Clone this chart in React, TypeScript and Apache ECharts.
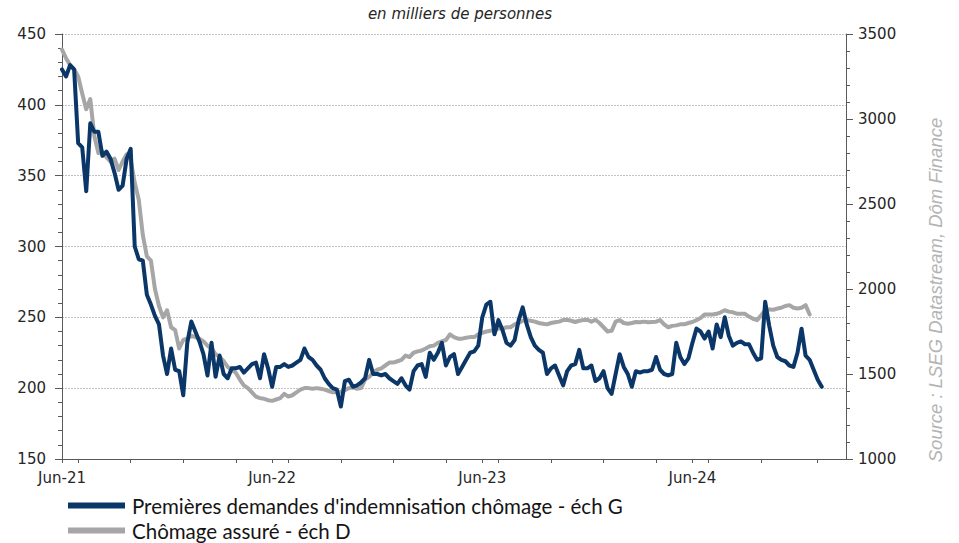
import { useEffect, useRef } from "react";
import * as echarts from "echarts";

// ---- data ----
const startDate = "2021-06-05"; // first weekly observation (week ending Saturday)
const weekCount = 195; // weeks shown on the axis
const tickLabels = ["Jun-21", "Jun-22", "Jun-23", "Jun-24"];
const quarterMonths = [1, 4, 7, 10];
const tickYears = [2021, 2022, 2023, 2024, 2025];

const blueName = "Premières demandes d'indemnisation chômage - éch G";
const grayName = "Chômage assuré - éch D";

// Initial claims, thousands (left scale)
const initialClaims = [
  425, 420, 428, 425, 373, 370, 339, 387, 381, 381,
  364, 367, 362, 352, 340, 343, 362, 369, 300, 291,
  290, 266, 259, 251, 245, 223, 210, 228, 213, 212,
  195, 232, 247, 240, 233, 224, 209, 232, 208, 223,
  210, 207, 214, 214, 215, 211, 214, 217, 218, 207,
  224, 214, 201, 215, 215, 217, 215, 216, 218, 220,
  228, 222, 220, 216, 213, 207, 203, 200, 199, 187,
  205, 206, 201, 202, 204, 207, 220, 210, 210, 209,
  210, 207, 205, 203, 207, 202, 199, 212, 216, 217,
  208, 225, 220, 225, 232, 216, 222, 224, 210, 215,
  220, 225, 226, 230, 250, 259, 261, 238, 248, 241,
  232, 230, 234, 248, 257, 245, 236, 230, 227, 225,
  210, 214, 216, 209, 202, 212, 216, 217, 227, 214,
  214, 216, 205, 207, 212, 200, 196, 210, 224, 215,
  210, 201, 212, 211, 212, 212, 213, 222, 213, 210,
  209, 210, 232, 222, 217, 221, 232, 242, 240, 235,
  240, 228, 245, 236, 250, 237, 230, 232, 233, 231,
  231, 225, 220, 221, 261, 244, 230, 222, 220, 219,
  216, 215, 225, 242, 223, 220, 213, 206, 201,
];

// Insured unemployment, thousands (right scale)
const continuingClaims = [
  3408, 3358, 3317, 3292, 3250, 3150, 3058, 3117, 2900, 2800,
  2808, 2775, 2750, 2767, 2700, 2750, 2792, 2758, 2625, 2525,
  2317, 2192, 2167, 2000, 1900, 1833, 1875, 1775, 1758, 1650,
  1700, 1708, 1725, 1717, 1708, 1692, 1667, 1650, 1617, 1600,
  1575, 1542, 1525, 1508, 1467, 1433, 1417, 1392, 1367, 1358,
  1354, 1346, 1342, 1350, 1358, 1383, 1367, 1375, 1392, 1408,
  1417, 1417, 1413, 1417, 1413, 1408, 1400, 1392, 1392, 1396,
  1404, 1417, 1421, 1413, 1417, 1467, 1483, 1508, 1525, 1533,
  1550, 1567, 1567, 1575, 1583, 1608, 1600, 1625, 1633, 1638,
  1650, 1663, 1667, 1683, 1692, 1700, 1733, 1717, 1708, 1708,
  1713, 1717, 1717, 1733, 1742, 1750, 1754, 1758, 1767, 1767,
  1775, 1775, 1792, 1800, 1813, 1817, 1813, 1808, 1800, 1796,
  1792, 1800, 1804, 1808, 1817, 1819, 1813, 1806, 1813, 1817,
  1819, 1808, 1819, 1800, 1775, 1750, 1754, 1808, 1817, 1800,
  1796, 1800, 1806, 1804, 1808, 1804, 1806, 1808, 1817, 1792,
  1775, 1783, 1786, 1792, 1792, 1800, 1806, 1817, 1829, 1850,
  1850, 1850, 1854, 1863, 1875, 1867, 1863, 1855, 1855, 1854,
  1838, 1825, 1817, 1845, 1875, 1880, 1878, 1885, 1890, 1900,
  1905, 1890, 1885, 1890, 1905, 1850,
];

// ---- helpers ----
const DAY = 86400000;
const startMs = Date.parse(startDate + "T00:00:00Z");
const weeks: string[] = [];
for (let i = 0; i < weekCount; i++) {
  weeks.push(new Date(startMs + i * 7 * DAY).toISOString().slice(0, 10));
}
function nearestWeek(y: number, m: number): number {
  const t = Date.UTC(y, m - 1, 1);
  const idx = Math.round((t - startMs) / (7 * DAY));
  if (idx < 0 || idx >= weekCount) return -1;
  const diff = Math.abs(startMs + idx * 7 * DAY - t) / DAY;
  return diff <= 4 ? idx : -1;
}
const labelMap = new Map<number, string>();
tickLabels.forEach((lab) => {
  const yy = 2000 + parseInt(lab.slice(4), 10);
  let idx = nearestWeek(yy, 6);
  if (idx < 0 && yy === 2021) idx = 0;
  if (idx >= 0) labelMap.set(idx, lab);
});
const tickSet = new Set<number>(labelMap.keys());
tickYears.forEach((y) =>
  quarterMonths.forEach((m) => {
    const idx = nearestWeek(y, m);
    if (idx >= 0) tickSet.add(idx);
  })
);

const AXIS = "#595959";
const LABEL = "#262626";
const NUMFONT = "DejaVu Sans";

export default function App() {
  const ref = useRef<HTMLDivElement>(null);
  useEffect(() => {
    if (!ref.current) return;
    const chart = echarts.init(ref.current, undefined, { renderer: "svg" });
    chart.setOption({
      animation: false,
      backgroundColor: "#ffffff",
      grid: { left: 62, right: 113, top: 34, bottom: 84, containLabel: false },
      legend: {
        data: [blueName, grayName],
        orient: "vertical",
        left: 68,
        top: 493,
        padding: 0,
        height: 50,
        icon: "rect",
        itemWidth: 57,
        itemHeight: 6,
        itemGap: 0,
        textStyle: {
          fontFamily: "Lato",
          fontSize: 20.5,
          color: "#141414",
          lineHeight: 25,
          padding: [0, 0, 0, 2],
        },
      },
      graphic: [
        {
          type: "text",
          x: 460,
          y: 14,
          style: {
            text: "en milliers de personnes",
            fontFamily: NUMFONT,
            fontStyle: "italic",
            fontSize: 15,
            fill: "#262626",
            align: "center",
            verticalAlign: "middle",
          },
        },
        {
          type: "text",
          x: 935,
          y: 290,
          rotation: Math.PI / 2,
          style: {
            text: "Source : LSEG Datastream, Dôm Finance",
            fontFamily: "Liberation Sans",
            fontStyle: "italic",
            fontSize: 18.5,
            fill: "#b4b4b4",
            align: "center",
            verticalAlign: "middle",
          },
        },
      ],
      xAxis: {
        type: "category",
        data: weeks,
        boundaryGap: false,
        axisLine: { show: true, lineStyle: { color: AXIS, width: 1 } },
        axisTick: {
          show: true,
          length: 4,
          interval: (index: number) => tickSet.has(index),
          lineStyle: { color: AXIS },
        },
        axisLabel: {
          interval: (index: number) => labelMap.has(index),
          formatter: (_v: string, index: number) => labelMap.get(index) ?? "",
          fontFamily: NUMFONT,
          fontSize: 15,
          color: LABEL,
          margin: 11,
        },
        splitLine: { show: false },
      },
      yAxis: [
        {
          type: "value",
          min: 150,
          max: 450,
          interval: 50,
          position: "left",
          axisLine: { show: true, lineStyle: { color: AXIS } },
          axisTick: { show: true, length: 7, lineStyle: { color: AXIS } },
          minorTick: { show: true, splitNumber: 5, length: 4, lineStyle: { color: AXIS } },
          splitLine: { show: true, lineStyle: { color: "#c4c4c4", type: [2, 1], width: 1 } },
          axisLabel: {
            fontFamily: NUMFONT,
            fontSize: 15,
            color: LABEL,
            margin: 16,
            formatter: (v: number) => String(v),
          },
        },
        {
          type: "value",
          min: 1000,
          max: 3500,
          interval: 500,
          position: "right",
          axisLine: { show: true, lineStyle: { color: AXIS } },
          axisTick: { show: true, length: 7, lineStyle: { color: AXIS } },
          minorTick: { show: true, splitNumber: 5, length: 4, lineStyle: { color: AXIS } },
          splitLine: { show: false },
          axisLabel: {
            fontFamily: NUMFONT,
            fontSize: 15,
            color: LABEL,
            margin: 12,
            formatter: (v: number) => String(v),
          },
        },
      ],
      series: [
        {
          name: blueName,
          type: "line",
          yAxisIndex: 0,
          data: initialClaims,
          showSymbol: false,
          symbol: "none",
          z: 3,
          itemStyle: { color: "#0b3668" },
          lineStyle: { color: "#0b3668", width: 4, join: "round", cap: "round" },
        },
        {
          name: grayName,
          type: "line",
          yAxisIndex: 1,
          data: continuingClaims,
          showSymbol: false,
          symbol: "none",
          z: 2,
          itemStyle: { color: "#a6a6a6" },
          lineStyle: { color: "#a6a6a6", width: 4, join: "round", cap: "round" },
        },
      ],
    });
    return () => chart.dispose();
  }, []);
  return (
    <div
      ref={ref}
      style={{ position: "fixed", left: 0, top: 0, width: 959, height: 543, background: "#fff" }}
    />
  );
}
